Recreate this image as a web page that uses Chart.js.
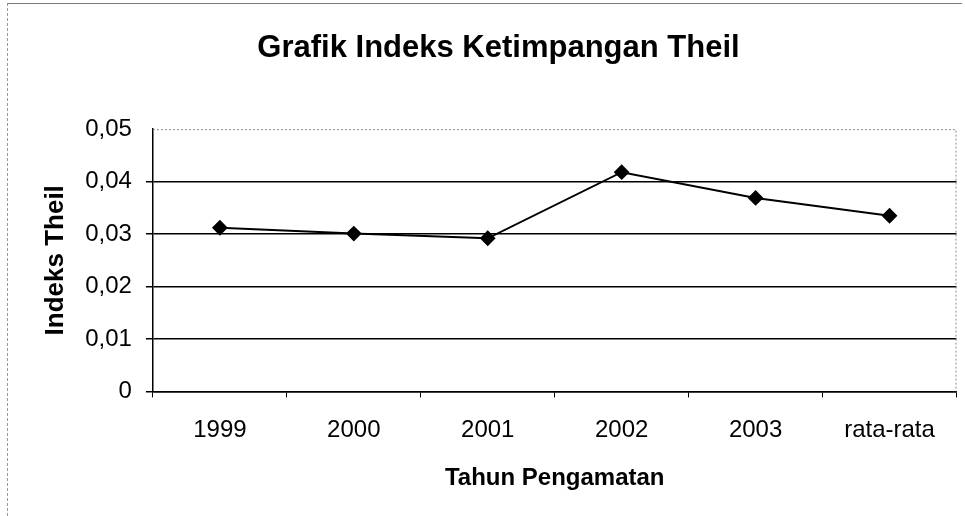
<!DOCTYPE html>
<html>
<head>
<meta charset="utf-8">
<script src="https://cdn.jsdelivr.net/npm/chart.js@4/dist/chart.umd.min.js"></script>
<style>
  html, body { margin: 0; padding: 0; background: #fff; }
  #wrap { position: relative; width: 965px; height: 516px; }
  #frame { position: absolute; left: 7px; top: 3px; right: 3px; bottom: 0; border-top: 1px solid #777; border-left: 1px dashed #999; pointer-events: none; }
</style>
</head>
<body>
<div id="wrap">
  <canvas id="graph" width="965" height="516"></canvas>
  <div id="frame"></div>
</div>
<script>
// data
const years = ["1999", "2000", "2001", "2002", "2003", "rata-rata"];
const theil = [0.0312, 0.0301, 0.0292, 0.0418, 0.0369, 0.0335];
const yTicks = [0, 0.01, 0.02, 0.03, 0.04, 0.05];

const font = "'Liberation Sans', Arial, sans-serif";

//draws the dotted top/right edge of the plot area
const plotFrame = {
    id: "plotFrame",
    afterDraw(chart) {
        const a = chart.chartArea;
        const ctx = chart.ctx;
        ctx.save();
        ctx.strokeStyle = "#888";
        ctx.lineWidth = 1;
        ctx.setLineDash([2, 2]);
        ctx.beginPath();
        ctx.moveTo(a.left, a.top + 0.5);
        ctx.lineTo(a.right - 0.5, a.top + 0.5);
        ctx.lineTo(a.right - 0.5, a.bottom);
        ctx.stroke();
        ctx.restore();
    }
};

function formatTick(v) {
    if (v === 0) return "0";
    return v.toFixed(2).replace(".", ",");
}

let ctx = document.getElementById("graph").getContext("2d");
let chart = new Chart(ctx, {
    type: "line",
    data: {
        labels: years,
        datasets: [{
            data: theil,
            borderColor: "#000",
            backgroundColor: "#000",
            borderWidth: 2,
            pointStyle: "rectRot",
            pointRadius: 6.5,
            pointHoverRadius: 6.5,
            tension: 0
        }]
    },
    options: {
        responsive: false,
        animation: false,
        layout: { padding: { left: 40, right: 8, top: 0, bottom: 23 } },
        plugins: {
            legend: { display: false },
            tooltip: { enabled: false },
            title: {
                display: true,
                text: "Grafik Indeks Ketimpangan Theil",
                color: "#000",
                font: { family: font, size: 31, weight: "bold" },
                padding: { top: 30, bottom: 62 }
            }
        },
        scales: {
            x: {
                offset: true,
                grid: {
                    offset: true,
                    drawOnChartArea: false,
                    drawTicks: true,
                    tickLength: 6,
                    color: "#000"
                },
                border: { display: true, color: "#000", width: 1.5 },
                ticks: {
                    color: "#000",
                    padding: 19,
                    font: { family: font, size: 24 }
                },
                title: {
                    display: true,
                    text: "Tahun Pengamatan",
                    color: "#000",
                    font: { family: font, size: 24, weight: "bold" },
                    padding: { top: 0, bottom: 0 }
                }
            },
            y: {
                min: 0,
                max: 0.05,
                afterBuildTicks(axis) {
                    axis.ticks = yTicks.map(v => ({ value: v }));
                },
                grid: {
                    color: (c) => (c.tick && c.tick.value === 0.05) ? "rgba(0,0,0,0)" : "#000",
                    lineWidth: 1.5,
                    tickLength: 7
                },
                border: { display: true, color: "#000", width: 1.5 },
                ticks: {
                    color: "#000",
                    padding: 14,
                    font: { family: font, size: 24 },
                    callback: (v) => formatTick(v)
                },
                title: {
                    display: true,
                    text: "Indeks Theil",
                    color: "#000",
                    font: { family: font, size: 26, weight: "bold" },
                    padding: { top: 0, bottom: 0 }
                }
            }
        }
    },
    plugins: [plotFrame]
});
</script>
</body>
</html>
